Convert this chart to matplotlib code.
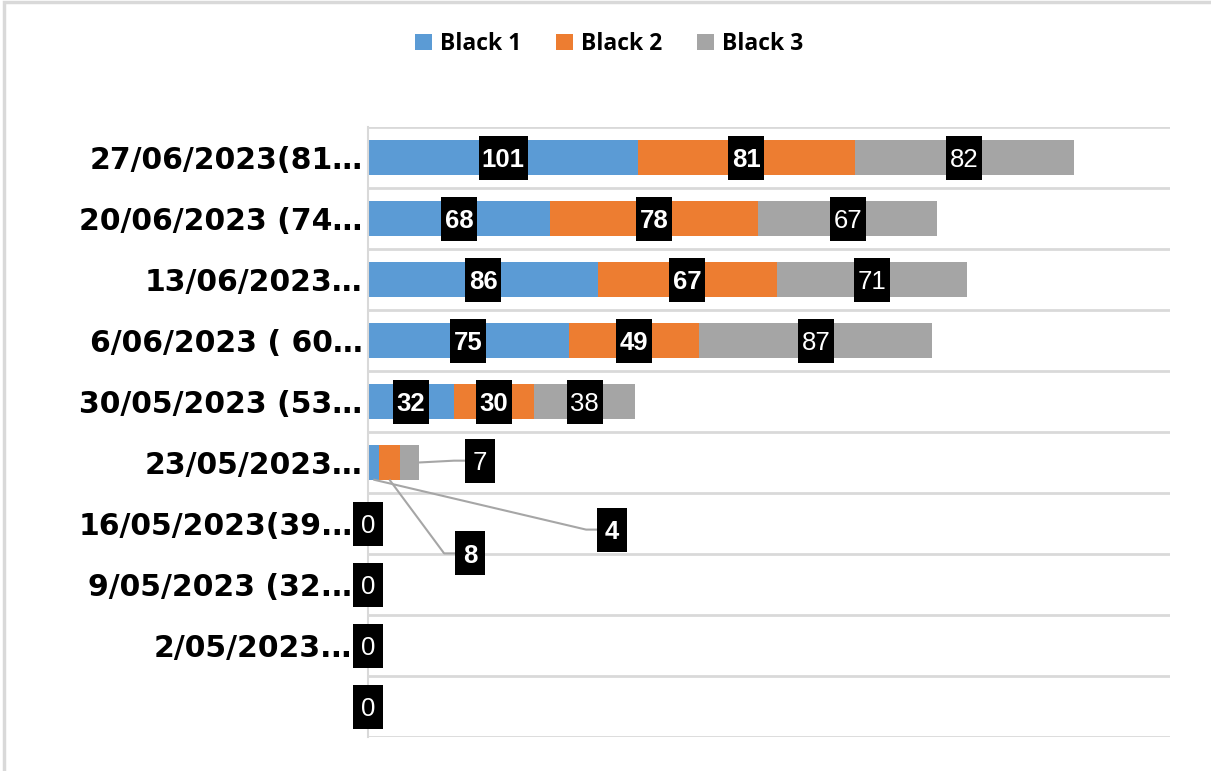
import matplotlib
matplotlib.use("Agg")
import matplotlib.pyplot as plt
from matplotlib import font_manager
from matplotlib.patches import Rectangle, Patch
import numpy as np

categories = ["27/06/2023(81…", "20/06/2023 (74…", "13/06/2023…", "6/06/2023 ( 60…",
              "30/05/2023 (53…", "23/05/2023…", "16/05/2023(39.…", "9/05/2023 (32.…",
              "2/05/2023.…", ""]
black1 = [101, 68, 86, 75, 32, 4, 0, 0, 0, 0]
black2 = [81, 78, 67, 49, 30, 8, 0, 0, 0, 0]
black3 = [82, 67, 71, 87, 38, 7, 0, 0, 0, 0]
series_names = ["Black 1", "Black 2", "Black 3"]
colors = ["#5B9BD5", "#ED7D31", "#A5A5A5"]
label_bold = [True, True, False]

# labels of the small 23/05 bar are moved out with leader lines (x, y in data units)
moved_labels = {(5, 0): (91.3, 6.1), (5, 1): (38.2, 6.49), (5, 2): (41.9, 4.97)}

names = {f.name for f in font_manager.fontManager.ttflist}
num_font = "Liberation Sans" if "Liberation Sans" in names else "DejaVu Sans"
leg_font = "Open Sans" if "Open Sans" in names else "DejaVu Sans"

fig = plt.figure(figsize=(12.11, 7.71), dpi=100)
ax = fig.add_axes([368 / 1211, 1 - 737 / 771, (1170 - 368) / 1211, (737 - 127) / 771])

y = np.arange(len(categories))
data = [black1, black2, black3]
left = np.zeros(len(categories))
bars = []
for vals, col in zip(data, colors):
    b = ax.barh(y, vals, left=left, height=0.56, color=col, zorder=2)
    bars.append(b)
    left = left + np.array(vals)

ax.set_xlim(0, 300)
ax.set_ylim(len(categories) - 0.5, -0.5)
ax.set_xticks([])
ax.set_yticks(y)
ax.set_yticklabels(categories, fontsize=21.5, fontweight="bold", family="DejaVu Sans")
ax.tick_params(axis="y", length=0, pad=4)
ax.set_yticks(np.arange(-0.5, len(categories), 1), minor=True)
ax.tick_params(axis="y", which="minor", length=0)
ax.grid(axis="y", which="minor", color="#D9D9D9", lw=2, zorder=0)
for s in ["top", "right", "bottom"]:
    ax.spines[s].set_visible(False)
ax.spines["left"].set_color("#D9D9D9")
ax.spines["left"].set_linewidth(1.5)

px = 300 / (1170 - 368)  # data units per pixel
row_px = 61.0
for si, (vals, b) in enumerate(zip(data, bars)):
    for i, (v, rect) in enumerate(zip(vals, b)):
        cx = rect.get_x() + rect.get_width() / 2
        cy = i
        if (i, si) in moved_labels:
            lx, ly = moved_labels[(i, si)]
            if si == 2:
                sx, sy = rect.get_x() + rect.get_width(), i
            else:
                sx, sy = cx, i + 0.28
            ex = lx - 26 * px
            ax.plot([sx, ex, lx], [sy, ly, ly], color="#A6A6A6", lw=1.5, zorder=3,
                    solid_capstyle="butt")
            cx, cy = lx, ly
        s = str(v)
        w = {1: 30, 2: 36, 3: 49}[len(s)] * px
        h = 44 / row_px
        ax.add_patch(Rectangle((cx - w / 2, cy - h / 2), w, h, fc="black", ec="none",
                               zorder=4 + 2 * si, clip_on=False))
        ax.text(cx, cy + 9.5 / row_px, s, ha="center", va="baseline", color="white",
                fontsize=18.5, family=num_font,
                fontweight="bold" if label_bold[si] else "normal",
                zorder=5 + 2 * si, clip_on=False)

handles = [Patch(facecolor=c, edgecolor="none") for c in colors]
fig.legend(handles, series_names, loc="center", bbox_to_anchor=(609 / 1211, 1 - 44 / 771),
           ncol=3, frameon=False, prop=dict(family=leg_font, weight="bold", size=16.5),
           handlelength=0.75, handleheight=0.75, handletextpad=0.35, columnspacing=1.5)

fig.add_artist(Rectangle((4 / 1211, -0.05), 1.1, 1 - 2.5 / 771 + 0.05,
                         transform=fig.transFigure, fill=False, ec="#D9D9D9", lw=2.5))

fig.savefig("out.png", dpi=100)
